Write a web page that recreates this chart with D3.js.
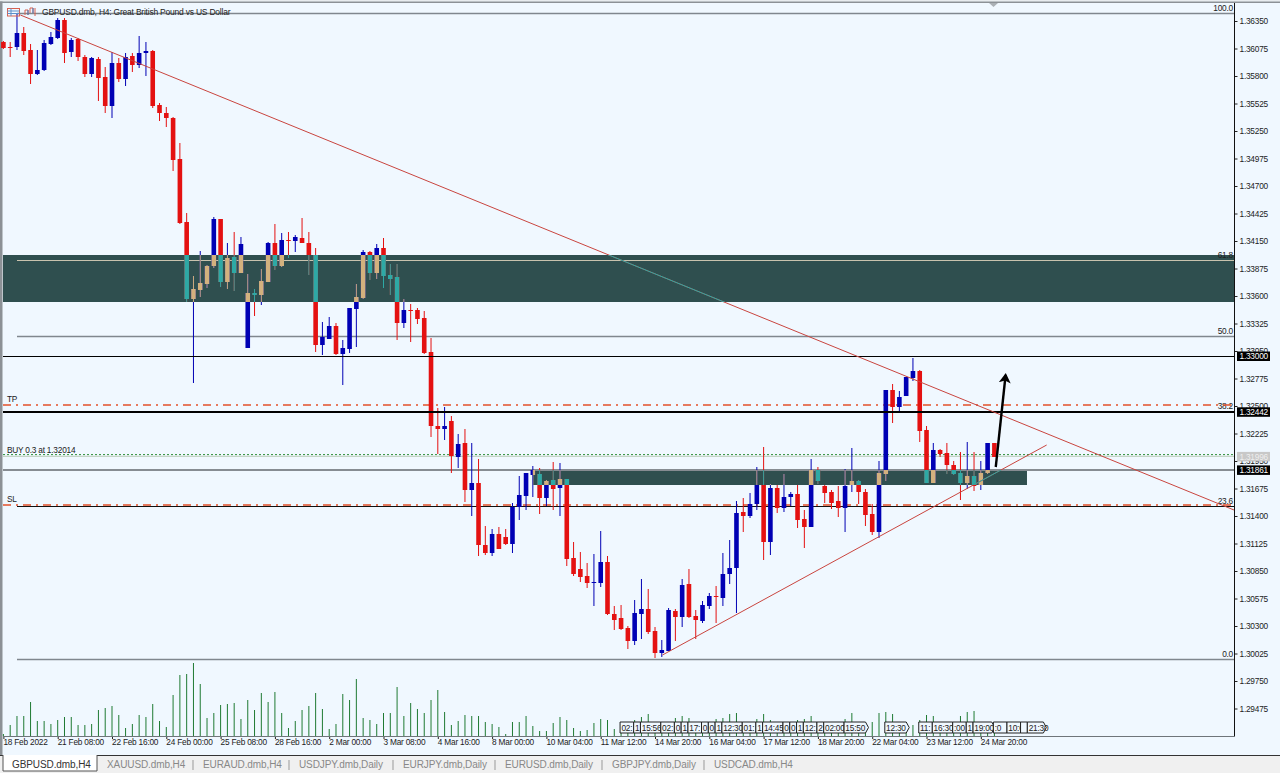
<!DOCTYPE html>
<html><head><meta charset="utf-8">
<script src="https://cdn.jsdelivr.net/npm/d3@7/dist/d3.min.js"></script>
<style>
html,body{margin:0;padding:0;background:#f0f8ff;overflow:hidden}
svg{display:block;font-family:"Liberation Sans",Arial,sans-serif}
text{fill:#222;letter-spacing:-0.22px}
</style></head><body>
<svg id="c" width="1280" height="773"></svg>
<script>
// Prices are in points (1.36350 = 13635.0)
const opens=[13614,13609,13609,13623,13606,13582,13586,13612,13618,13636,13604,13617,13599,13582,13597,13579,13550,13593,13577,13600,13591,13603,13605,13551,13543,13538,13497,13434,13357,13366,13372,13390,13437,13374,13399,13383,13308,13363,13361,13374,13413,13390,13416,13415,13418,13413,13401,13311,13317,13330,13302,13307,13347,13358,13404,13383,13408,13381,13379,13333,13346,13346,13338,13304,13230,13227,13235,13199,13213,13166,13173,13111,13103,13122,13119,13112,13149,13160,13181,13182,13158,13176,13168,13177,13098,13087,13080,13073,13073,13094,13042,13038,13028,13015,13042,13047,13025,13003,13005,13045,13039,13072,13040,13035,13050,13060,13058,13082,13088,13144,13140,13152,13171,13114,13168,13148,13159,13162,13137,13129,13186,13170,13164,13155,13148,13171,13175,13164,13142,13124,13182,13266,13249,13260,13278,13285,13226,13173,13206,13203,13191,13183,13173,13180,13171,13183,13213];
const highs=[13615,13614,13643,13629,13612,13606,13616,13624,13638,13638,13618,13618,13601,13599,13599,13589,13604,13598,13603,13603,13620,13614,13606,13553,13549,13539,13513,13443,13380,13405,13391,13439,13437,13413,13424,13419,13382,13367,13387,13414,13432,13423,13424,13421,13438,13424,13408,13334,13339,13333,13316,13348,13372,13406,13405,13412,13418,13392,13392,13357,13352,13348,13345,13318,13248,13249,13240,13222,13227,13213,13197,13130,13127,13129,13127,13153,13180,13183,13190,13188,13176,13194,13193,13177,13114,13104,13093,13102,13125,13100,13050,13051,13030,13056,13077,13067,13029,13016,13048,13047,13077,13087,13046,13055,13063,13070,13103,13116,13155,13158,13163,13189,13209,13172,13171,13182,13164,13171,13146,13197,13189,13171,13166,13170,13187,13208,13176,13167,13152,13195,13266,13272,13265,13279,13298,13286,13230,13213,13207,13213,13195,13204,13214,13204,13195,13213,13213];
const lows=[13607,13599,13606,13601,13572,13581,13585,13611,13617,13593,13599,13595,13579,13579,13555,13543,13538,13574,13570,13584,13588,13580,13548,13535,13529,13485,13432,13354,13273,13359,13368,13388,13369,13367,13365,13383,13308,13340,13351,13374,13386,13389,13398,13404,13413,13381,13304,13301,13317,13301,13271,13303,13309,13357,13376,13377,13368,13361,13316,13328,13314,13332,13302,13219,13202,13216,13183,13188,13154,13140,13100,13101,13100,13107,13111,13103,13136,13146,13159,13142,13150,13146,13140,13090,13080,13074,13068,13050,13069,13041,13026,13026,13007,13011,13017,13022,12998,12999,13005,13015,13029,13038,13017,13033,13047,13033,13050,13072,13043,13124,13138,13146,13096,13101,13143,13144,13150,13128,13108,13129,13172,13153,13147,13139,13124,13164,13152,13130,13121,13118,13175,13233,13244,13260,13275,13214,13173,13173,13199,13182,13181,13156,13167,13165,13166,13182,13199];
const closes=[13608,13608,13623,13605,13582,13586,13613,13619,13636,13603,13616,13599,13582,13598,13578,13550,13593,13577,13599,13591,13603,13605,13550,13543,13538,13496,13433,13357,13367,13373,13390,13437,13374,13398,13383,13412,13363,13361,13375,13413,13390,13416,13415,13419,13413,13401,13311,13319,13330,13302,13308,13348,13359,13404,13383,13408,13380,13377,13333,13346,13345,13337,13303,13230,13227,13230,13200,13212,13166,13173,13111,13103,13122,13107,13112,13149,13161,13183,13186,13158,13175,13167,13177,13097,13082,13079,13073,13074,13094,13042,13036,13027,13015,13043,13047,13024,13003,13006,13046,13039,13071,13039,13036,13051,13060,13059,13082,13088,13143,13140,13152,13171,13114,13168,13148,13159,13162,13136,13129,13186,13175,13163,13153,13148,13170,13175,13164,13141,13124,13183,13266,13249,13259,13279,13285,13225,13173,13206,13202,13191,13182,13173,13180,13170,13183,13213,13199];
// Tick volume (hundreds)
const volumes=[2,11,20,20,34,15,15,12,16,19,19,11,11,12,26,28,30,21,8,12,21,19,32,15,9,41,61,62,73,52,18,23,31,32,33,17,36,26,43,34,44,23,8,15,26,30,43,27,7,12,42,36,57,18,16,12,23,23,49,20,33,27,23,36,46,24,11,15,21,20,20,14,12,9,2,14,14,20,10,5,5,13,19,16,8,5,6,13,17,16,7,12,10,16,19,22,12,12,12,18,20,18,12,12,10,17,18,22,23,10,12,17,22,16,10,10,8,16,17,20,10,10,12,10,17,23,10,8,14,23,24,22,12,10,11,16,21,20,8,8,8,20,24,25,8,6,5];
const dateBars=[0,8,16,24,32,40,48,56,64,72,80,88,96,104,112,120,128,136,144];
const dateLabels=["18 Feb 2022","21 Feb 08:00","22 Feb 16:00","24 Feb 00:00","25 Feb 08:00","28 Feb 16:00","2 Mar 00:00","3 Mar 08:00","4 Mar 16:00","8 Mar 00:00","10 Mar 04:00","11 Mar 12:00","14 Mar 20:00","16 Mar 04:00","17 Mar 12:00","18 Mar 20:00","22 Mar 04:00","23 Mar 12:00","24 Mar 20:00"];
const priceTicks=d3.range(26).map(k=>13635-27.5*k);
const fibNames=["100.0","61.8","50.0","38.2","23.6","0.0"];
const fibLevels=[13642.5,13395.5,13319.5,13244,13149.5,12996.5];
const fibColors=["#80878e","#c9c3ae","#80878e","#000","#111","#80878e"];
const zoneTops=[13401,13186], zoneBottoms=[13354,13171], zoneStarts=[0,78], zoneEnds=[181,150.8];
const priceTags=[13300,13244.2,13186.1], bidPrice=13199.6, tpPrice=13251, slPrice=13151, buyPrice=13201.4;
const downLine=[[2.5,13641],[181.3,13146]], upLine=[[97.1,13001],[153.7,13211]];
const arrowLine=[[146.2,13189],[147.65,13281]];
const eventStarts=[91,93,94,97,99,100,101,103,104,105,106,109,111,112,115,116,117,118,120,121,124,130,135,137,140,142,143,146,148,150,151];
const eventEnds=[93,94,97,99,100,101,103,104,105,106,109,111,112,115,116,117,118,120,121,124,127.6,133.6,137,140,142,143,146.2,148,150,151,153.8];
const eventTexts=["02:","1","15:56","02:","0","1","17:","0","0","1","12:30","01:","1","14:45","0","0","1","12:","2","02:00","15:50","12:30","11:","16:30",":00","1","19:00",":0","10:0","","21:30"];
const eventPointed=[124,130,143,151];
const tabNames=["GBPUSD.dmb,H4","XAUUSD.dmb,H4","EURAUD.dmb,H4","USDJPY.dmb,Daily","EURJPY.dmb,Daily","EURUSD.dmb,Daily","GBPJPY.dmb,Daily","USDCAD.dmb,H4"];
const tabX=[12,107,203,299,403,505,612,714];

const RED="#e41111",BLUE="#0000b4",TEAL="#2ea9a5",TAN="#d3b17e",ZONE="#2f4f4f";
const svg=d3.select("#c");
const x=d3.scaleLinear().domain([0,146]).range([3.4,994.4]);
const y=d3.scaleLinear().domain([13656,12883]).range([0,773]);
const v=d3.scaleLinear().domain([0,73]).range([736,663]);
const AX=1234.5, BASE=736, FS=8.3;
const line=d3.line().x(d=>x(d[0])).y(d=>y(d[1]));

svg.append("rect").attr("width",1280).attr("height",773).attr("fill","#f0f8ff");
// window frame
svg.append("rect").attr("x",0).attr("y",0).attr("width",2.5).attr("height",756).attr("fill","#8c9196");
svg.append("rect").attr("x",0).attr("y",0).attr("width",1280).attr("height",1.5).attr("fill","#e8ecef");
svg.append("rect").attr("x",0).attr("y",1.5).attr("width",1280).attr("height",1.5).attr("fill","#8c9196");

// zones
const zones=d3.range(2).map(i=>({x0:i==0?3:x(zoneStarts[i]),x1:i==0?AX:x(zoneEnds[i]),y0:y(zoneTops[i]),y1:y(zoneBottoms[i])}));
const defs=svg.append("defs");
const cp=defs.append("clipPath").attr("id","zc");
cp.selectAll("rect").data(zones).join("rect").attr("x",d=>d.x0).attr("y",d=>d.y0).attr("width",d=>d.x1-d.x0).attr("height",d=>d.y1-d.y0);
defs.append("marker").attr("id","ah").attr("viewBox","0 0 10 12").attr("refX",8).attr("refY",6)
 .attr("markerUnits","userSpaceOnUse").attr("markerWidth",10).attr("markerHeight",13).attr("orient","auto")
 .append("path").attr("d","M0,0L10,6L0,12L2.5,6Z").attr("fill","#000");
svg.append("g").selectAll("rect").data(zones).join("rect").attr("x",d=>d.x0).attr("y",d=>d.y0).attr("width",d=>d.x1-d.x0).attr("height",d=>d.y1-d.y0).attr("fill",ZONE);

// fib levels
const fibG=svg.append("g");
fibLevels.forEach((p,i)=>{
  fibG.append("line").attr("x1",17).attr("x2",AX).attr("y1",y(p)).attr("y2",y(p)).attr("stroke",fibColors[i]).attr("stroke-width",i==0||i==5?1.6:(i==2?1.4:1));
  fibG.append("text").attr("x",1233).attr("y",y(p)-3).attr("text-anchor","end").attr("font-size",FS).text(fibNames[i]);
});
// order lines
const hl=(p,c,w,d,crisp)=>svg.append("line").attr("x1",3).attr("x2",AX).attr("y1",y(p)).attr("y2",y(p)).attr("stroke",c).attr("stroke-width",w).attr("stroke-dasharray",d||null).attr("shape-rendering",crisp?"crispEdges":null);
hl(tpPrice,"#e2502a",1.6,"8,5,2,5");
hl(slPrice,"#e2502a",1.6,"8,5,2,5");
hl(bidPrice,"#c4d4c6",1.2);
hl(buyPrice,"#2f8f3a",1,"2,2");
hl(priceTags[2],"#868c92",1.7,null,true);

// volumes
svg.append("g").selectAll("line").data(volumes).join("line")
 .attr("x1",(d,i)=>x(i)).attr("x2",(d,i)=>x(i)).attr("y1",BASE).attr("y2",d=>v(d))
 .attr("stroke","#1f7a33").attr("stroke-width",1);

// candles
function candles(g,up,down){
  const idx=d3.range(opens.length);
  const col=i=>closes[i]>=opens[i]?up:down;
  g.selectAll(".w").data(idx).join("line").attr("class","w")
   .attr("x1",i=>x(i)).attr("x2",i=>x(i)).attr("y1",i=>y(highs[i])).attr("y2",i=>y(lows[i]))
   .attr("stroke",col).attr("stroke-width",1);
  g.selectAll(".b").data(idx).join("rect").attr("class","b")
   .attr("x",i=>x(i)-2.3).attr("width",4.6)
   .attr("y",i=>y(Math.max(opens[i],closes[i])))
   .attr("height",i=>Math.max(1,Math.abs(y(opens[i])-y(closes[i]))))
   .attr("fill",col);
}
candles(svg.append("g"),BLUE,RED);
candles(svg.append("g").attr("clip-path","url(#zc)"),TAN,TEAL);

// price lines drawn above candles
hl(priceTags[0],"#000",1,null,true);
hl(priceTags[1],"#000",2,null,true);

// trend lines
[downLine,upLine].forEach(l=>{
  svg.append("path").attr("d",line(l)).attr("fill","none").attr("stroke","#c9453f").attr("stroke-width",1);
  svg.append("path").attr("d",line(l)).attr("fill","none").attr("stroke",TEAL).attr("stroke-width",1).attr("clip-path","url(#zc)");
});
svg.append("path").attr("d",line(arrowLine)).attr("fill","none").attr("stroke","#000").attr("stroke-width",2.4).attr("marker-end","url(#ah)");

// y axis
const yAxis=d3.axisRight(y).tickValues(priceTicks).tickFormat(d=>(d/10000).toFixed(5)).tickSize(3).tickPadding(2);
const yg=svg.append("g").attr("transform",`translate(${AX},0)`).call(yAxis);
yg.select(".domain").remove();
yg.selectAll("text").attr("font-size",FS).attr("font-family","Liberation Sans").attr("fill","#222");
yg.selectAll("line").attr("stroke","#222");
svg.append("line").attr("x1",AX).attr("x2",AX).attr("y1",3).attr("y2",BASE).attr("stroke","#111");

// price tags
const tagG=svg.append("g");
const tag=(p,bg,fg)=>{
  tagG.append("rect").attr("x",1237).attr("y",y(p)-4.5).attr("width",33).attr("height",9.5).attr("fill",bg);
  tagG.append("text").attr("x",1239.5).attr("y",y(p)+3.2).attr("font-size",FS).style("fill",fg).text((p/10000).toFixed(5));
};
tag(bidPrice,"#c8c8c8","#eee");
priceTags.forEach(p=>tag(p,"#000","#fff"));

// x axis
const labelOf=new Map(dateBars.map((b,i)=>[b,dateLabels[i]]));
const xAxis=d3.axisBottom(x).tickValues(dateBars).tickFormat(d=>labelOf.get(d)).tickSize(3).tickPadding(1);
const xg=svg.append("g").attr("transform",`translate(0,${BASE})`).call(xAxis);
xg.select(".domain").remove();
xg.selectAll("line").attr("stroke","#222");
xg.selectAll("text").attr("text-anchor","start").attr("dx",-0.5).attr("dy","0.62em").attr("font-size",FS).attr("font-family","Liberation Sans").attr("fill","#222");
svg.append("line").attr("x1",3).attr("x2",AX).attr("y1",BASE).attr("y2",BASE).attr("stroke","#6f757a").attr("stroke-width",1).attr("shape-rendering","crispEdges");

// event labels
const evG=svg.append("g");
eventStarts.forEach((s,i)=>{
  const a=x(s)-1, b=x(eventEnds[i])-1, t=722, h=733;
  const pointed=eventPointed.includes(s);
  evG.append("path").attr("d",pointed?`M${a},${t}H${b-3}L${b},${(t+h)/2}L${b-3},${h}H${a}Z`:`M${a},${t}H${b}V${h}H${a}Z`)
   .attr("fill","#f0f8ff").attr("stroke","#222").attr("stroke-width",1);
  evG.append("text").attr("x",a+1.3).attr("y",730.7).attr("font-size",FS).text(eventTexts[i]);
});

// text labels
const txt=(xx,yy,s,fs)=>svg.append("text").attr("x",xx).attr("y",yy).attr("font-size",fs||FS).text(s);
txt(42,15,"GBPUSD.dmb, H4:  Great British Pound vs US Dollar",8.5);
txt(7,402,"TP");
txt(7,453,"BUY 0.3 at 1.32014");
txt(7,502,"SL");

// top-left icons
const ic=svg.append("g").attr("fill","none").attr("stroke-width",1);
ic.append("rect").attr("x",7.5).attr("y",8.5).attr("width",12).attr("height",7.5).attr("stroke","#d8604f");
ic.append("path").attr("d","M7.5,11H19.5M7.5,13.5H19.5M11,8.5V16").attr("stroke","#5b8fc9");
ic.append("path").attr("d","M25,15V10H28V15M30,13V8H33V13M35,8V16").attr("stroke","#d8604f");
ic.append("path").attr("d","M28,15V10M33,13V8").attr("stroke","#3a78c0");
// scroll marker
svg.append("path").attr("d","M989,3H998L993.5,7Z").attr("fill","#aab0b5");

// tab strip
svg.append("rect").attr("x",0).attr("y",755).attr("width",1280).attr("height",18).attr("fill","#f0f0f0");
svg.append("line").attr("x1",0).attr("x2",1280).attr("y1",755.5).attr("y2",755.5).attr("stroke","#333");
svg.append("path").attr("d","M3,755V771H97V755").attr("fill","#fff").attr("stroke","#555");
tabNames.forEach((t,i)=>{
  svg.append("text").attr("x",tabX[i]).attr("y",767.5).attr("font-size",10).style("letter-spacing","-0.1px").style("fill",i==0?"#333":"#888").text(t);
  if(i>1) svg.append("line").attr("x1",tabX[i]-10).attr("x2",tabX[i]-10).attr("y1",760).attr("y2",770).attr("stroke","#999");
});
</script></body></html>
